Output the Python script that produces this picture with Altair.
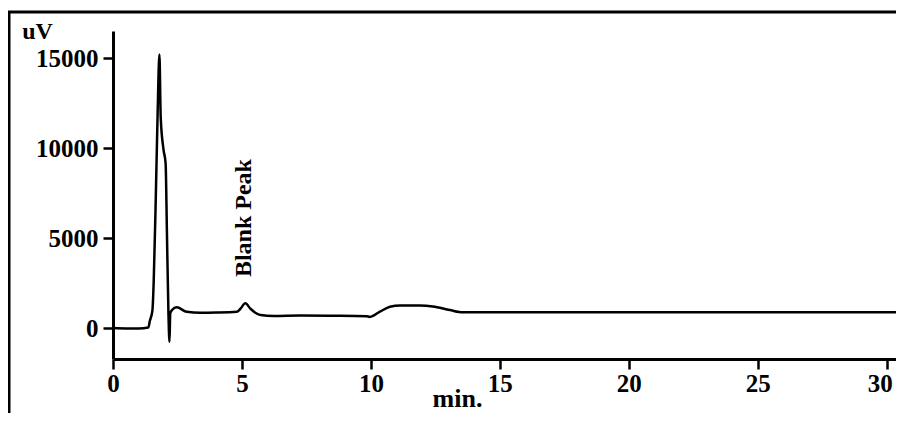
import altair as alt
import pandas as pd

# Chromatogram trace (time in min, signal in uV)
time_min = [0.0, 0.5, 1.0, 1.37, 1.43, 1.53, 1.58, 1.66, 1.73, 1.80, 1.85, 1.96, 2.04, 2.09, 2.15, 2.19,
            2.22, 2.29, 2.47, 2.86, 3.38, 4.0, 4.8, 4.94, 5.13, 5.33, 5.72, 6.23, 7.27, 8.5, 9.83, 9.96,
            10.35, 10.74, 11.13, 11.9, 12.4, 13.06, 13.57, 15.0, 20.0, 25.0, 30.36]
signal_uv = [0, -20, -20, 30, 400, 1000, 2670, 7300, 11900, 15200, 11700, 9900, 9150, 5400, 800, -760,
             830, 1000, 1150, 900, 850, 860, 900, 1070, 1370, 1070, 720, 670, 690, 680, 660, 620,
             910, 1180, 1250, 1250, 1200, 1000, 870, 870, 870, 870, 870]

x_ticks = [0, 5, 10, 15, 20, 25, 30]
y_ticks = [0, 5000, 10000, 15000]

ann_text = ["Blank Peak"]
ann_x = [5.08]
ann_y = [2830]

FONT = "Liberation Serif"

df = pd.DataFrame({"t": time_min, "v": signal_uv})
ann = pd.DataFrame({"label": ann_text, "t": ann_x, "v": ann_y})

x_scale = alt.Scale(domain=[0, 30.36], nice=False, zero=False)
y_scale = alt.Scale(domain=[-1720, 16500], nice=False, zero=False)

line = alt.Chart(df).mark_line(color="black", strokeWidth=2.5, interpolate="monotone").encode(
    x=alt.X("t:Q", scale=x_scale,
            axis=alt.Axis(values=x_ticks, format="d", title="min.", titleX=344, titleY=47,
                          titleBaseline="alphabetic", titleAlign="center",
                          titleFont=FONT, titleFontSize=26, titleFontWeight="bold", titleColor="black",
                          labelFont=FONT, labelFontSize=25, labelFontWeight="bold", labelColor="black",
                          labelOffset={"condition": {"test": "datum.value == 30", "value": -7}, "value": 0},
                          labelPadding=2, tickSize=10, tickWidth=2.5, tickColor="black",
                          domainWidth=3, domainColor="black", grid=False, labelFlush=False)),
    y=alt.Y("v:Q", scale=y_scale,
            axis=alt.Axis(values=y_ticks, format="d", title="uV", titleAngle=0, titleX=-76, titleY=7,
                          titleBaseline="alphabetic", titleAlign="center",
                          titleFont=FONT, titleFontSize=24, titleFontWeight="bold", titleColor="black",
                          labelFont=FONT, labelFontSize=25, labelFontWeight="bold", labelColor="black",
                          labelPadding=5, tickSize=10, tickWidth=2.5, tickColor="black",
                          domainWidth=3, domainColor="black", grid=False, labelFlush=False)),
)

text = alt.Chart(ann).mark_text(angle=270, align="left", baseline="middle", font=FONT,
                                fontSize=24, fontWeight="bold", color="black").encode(
    x="t:Q", y="v:Q", text="label:N")

frame_df = pd.DataFrame({"f": [0]})
frame_left = alt.Chart(frame_df).mark_rule(color="black", strokeWidth=3).encode(
    x=alt.value(-104), y=alt.value(-19), y2=alt.value(430))
frame_top = alt.Chart(frame_df).mark_rule(color="black", strokeWidth=3).encode(
    x=alt.value(-105.5), x2=alt.value(820), y=alt.value(-19))

chart = alt.layer(line, text, frame_left, frame_top).properties(
    width=783, height=328,
    autosize=alt.AutoSizeParams(type="none"),
    padding={"left": 105, "top": 23, "right": 0, "bottom": 54},
).configure(background="white").configure_view(stroke=None)

chart.save("out.html", embed_options={"renderer": "svg", "actions": False})
